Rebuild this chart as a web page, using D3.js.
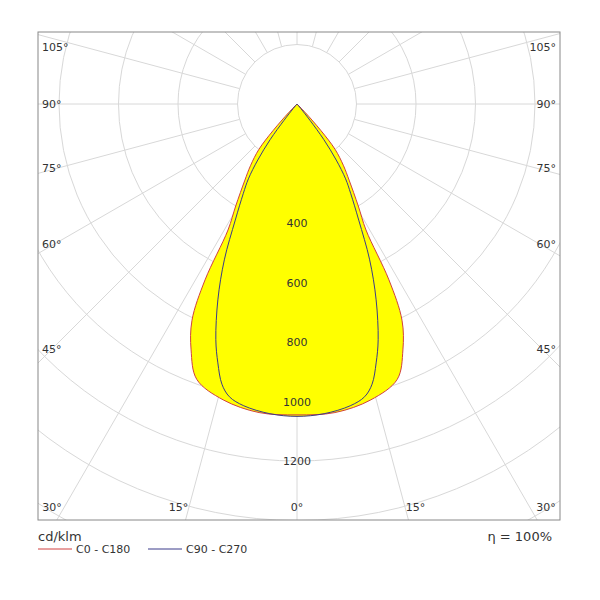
<!DOCTYPE html>
<html><head><meta charset="utf-8">
<script src="https://cdnjs.cloudflare.com/ajax/libs/d3/7.8.5/d3.min.js"></script>
<style>body{margin:0;background:#fff}</style></head>
<body><div id="chart"></div>
<script>
// intensity curves, cd/klm, gamma in degrees (symmetric)
var gammasC0 = [0, 7, 14, 20, 23.3, 25.9, 27.6, 28.7, 31, 34.4, 37, 40, 42, 44, 46];
var c0 =       [1045, 1045, 1025, 985, 900, 808, 667, 483, 400, 310, 260, 200, 120, 40, 0];
var gammasC90 = [0, 5, 10, 13, 15, 17, 19, 22, 25, 28, 31, 33, 35, 37, 38.5, 40, 42];
var c90 =       [1050, 1045, 1030, 1010, 975, 910, 838, 710, 578, 442, 350, 300, 230, 150, 70, 20, 0];
var rings = [200, 400, 600, 800, 1000, 1200, 1400, 1600, 1800, 2000];
var ringLabels = [400, 600, 800, 1000, 1200];
var angleLines = [0, 15, 30, 45, 60, 75, 90, 105, 120, 135, 150, 165, 180];

var W = 600, H = 600, L = 38, T = 32, R = 560, B = 520;
var cx = 297, cy = 104;
var r = d3.scaleLinear().domain([0, 1000]).range([0, 297.5]);

var svg = d3.select("#chart").append("svg").attr("width", W).attr("height", H)
    .style("font-family", "DejaVu Sans").style("font-size", "11px");
svg.append("clipPath").attr("id", "clip").append("rect")
    .attr("x", L).attr("y", T).attr("width", R - L).attr("height", B - T);
var g = svg.append("g").attr("clip-path", "url(#clip)");

g.selectAll("circle.ring").data(rings).enter().append("circle")
    .attr("cx", cx).attr("cy", cy).attr("r", function(d) { return r(d); })
    .attr("fill", "none").attr("stroke", "#d8d8d8");
[-1, 1].forEach(function(s) {
    g.selectAll(null).data(angleLines.filter(function(a) { return !(s < 0 && (a === 0 || a === 180)); }))
        .enter().append("line")
        .attr("x1", function(a) { return cx + s * r(200) * Math.sin(a * Math.PI / 180); })
        .attr("y1", function(a) { return cy + r(200) * Math.cos(a * Math.PI / 180); })
        .attr("x2", function(a) { return cx + s * 900 * Math.sin(a * Math.PI / 180); })
        .attr("y2", function(a) { return cy + 900 * Math.cos(a * Math.PI / 180); })
        .attr("stroke", "#d8d8d8");
});

function curve(gammas, vals) {
    var pts = gammas.map(function(a, i) { return [a, vals[i]]; });
    var left = pts.slice(0, -1).reverse().map(function(p) { return [-p[0], p[1]]; });
    var all = [pts[pts.length - 1]].concat(left, pts.slice(1));
    return d3.line()
        .x(function(p) { return cx + r(p[1]) * Math.sin(p[0] * Math.PI / 180); })
        .y(function(p) { return cy + r(p[1]) * Math.cos(p[0] * Math.PI / 180); })
        .curve(d3.curveCatmullRom)(all);
}
var p0 = curve(gammasC0, c0), p90 = curve(gammasC90, c90);
g.append("path").attr("d", p0).attr("fill", "#ffff00").attr("stroke", "none");
g.append("path").attr("d", p90).attr("fill", "#ffff00").attr("stroke", "none");
g.append("path").attr("d", p0).attr("fill", "none").attr("stroke", "#d04040").attr("stroke-width", 1);
g.append("path").attr("d", p90).attr("fill", "none").attr("stroke", "#3a3a8a").attr("stroke-width", 1);

svg.selectAll("text.rl").data(ringLabels).enter().append("text")
    .attr("x", cx).attr("y", function(d) { return cy + r(d) + 4; })
    .attr("text-anchor", "middle").attr("fill", "#333").text(function(d) { return d; });

svg.append("rect").attr("x", L).attr("y", T).attr("width", R - L).attr("height", B - T)
    .attr("fill", "none").attr("stroke", "#888");

// angle labels on frame
var side = [45, 60, 75, 90, 105];
[-1, 1].forEach(function(s) {
    side.forEach(function(a) {
        var rad = a * Math.PI / 180;
        var yi = cy + (cx - L) / Math.tan(rad) - 20 * Math.cos(rad);
        yi = Math.max(47, yi);
        svg.append("text").attr("x", s < 0 ? L + 4 : R - 4).attr("y", yi + 4)
            .attr("text-anchor", s < 0 ? "start" : "end").attr("fill", "#333").text(a + "°");
    });
    [15, 30].forEach(function(a) {
        var x = a === 30 ? (s < 0 ? L + 14 : R - 14) : cx + s * ((B - cy) * Math.tan(a * Math.PI / 180) + 7);
        svg.append("text").attr("x", x).attr("y", 511).attr("text-anchor", "middle")
            .attr("fill", "#333").text(a + "°");
    });
});
svg.append("text").attr("x", cx).attr("y", 511).attr("text-anchor", "middle").attr("fill", "#333").text("0°");

svg.append("text").attr("x", L).attr("y", 541).style("font-size", "13px").attr("fill", "#333").text("cd/klm");
svg.append("text").attr("x", R - 8).attr("y", 541).attr("text-anchor", "end").style("font-size", "13px")
    .attr("fill", "#333").text("η = 100%");
var legend = [["C0 - C180", "#d04040", 38], ["C90 - C270", "#3a3a8a", 148]];
legend.forEach(function(l) {
    svg.append("line").attr("x1", l[2]).attr("x2", l[2] + 34).attr("y1", 549).attr("y2", 549).attr("stroke", l[1]);
    svg.append("text").attr("x", l[2] + 38).attr("y", 553).attr("fill", "#333").text(l[0]);
});
</script></body></html>
